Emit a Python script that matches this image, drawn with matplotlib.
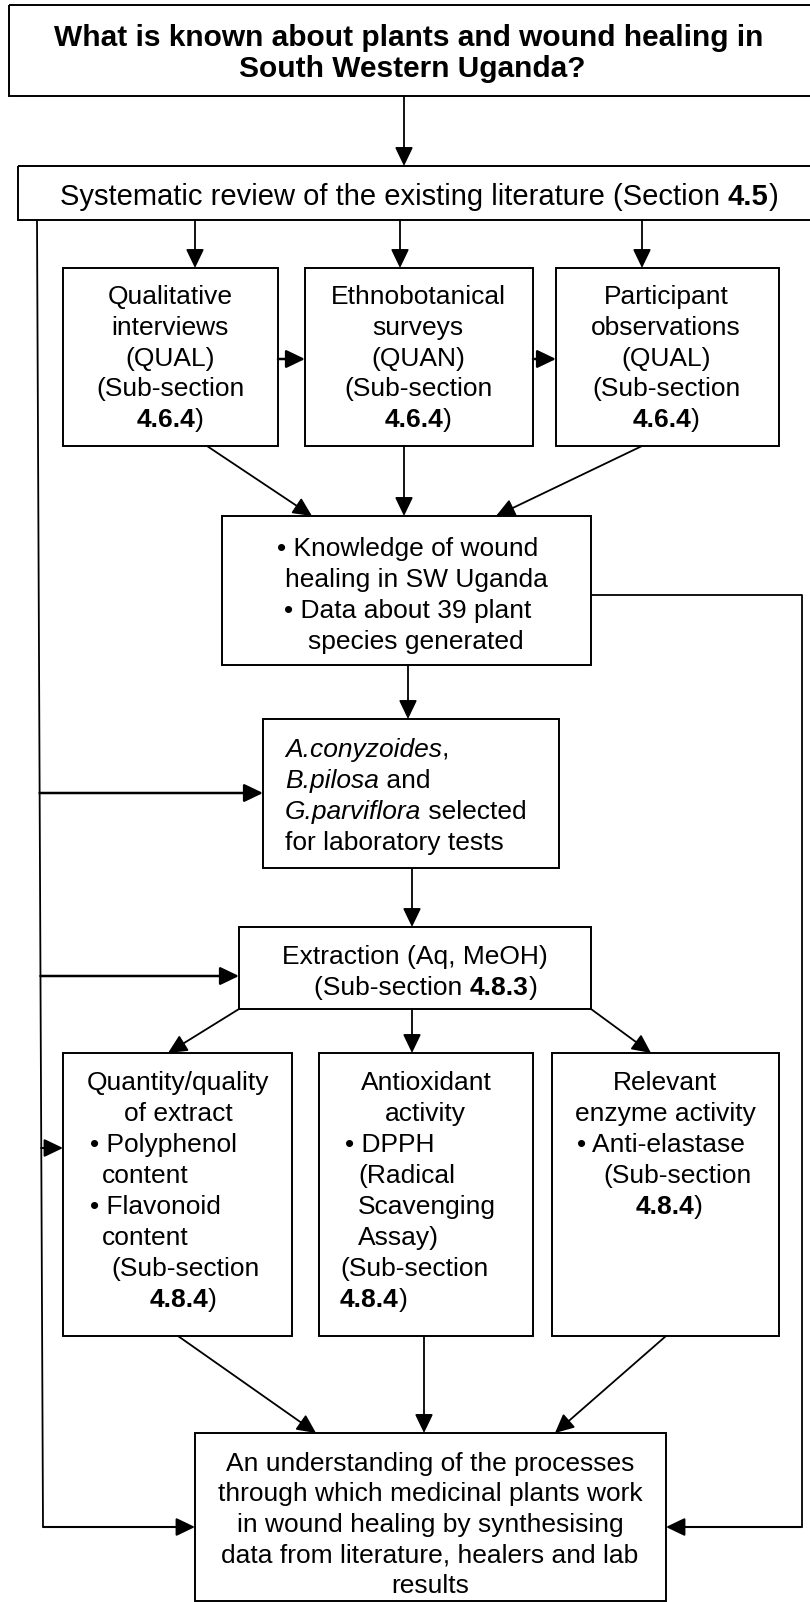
import matplotlib
matplotlib.use("Agg")
import matplotlib.pyplot as plt
from matplotlib.patches import Rectangle, FancyArrowPatch

plt.rcParams['font.family'] = ['Liberation Sans', 'DejaVu Sans']

# ---------------- content (text of each box) ----------------
title_lines = ["What is known about plants and wound healing in",
               "South Western Uganda?"]
review_runs = [("Systematic review of the existing literature (Section ", "n"),
               ("4.5", "b"), (")", "n")]
qual_lines = ["Qualitative", "interviews", "(QUAL)", "(Sub-section", [("4.6.4", "b"), (")", "n")]]
ethno_lines = ["Ethnobotanical", "surveys", "(QUAN)", "(Sub-section", [("4.6.4", "b"), (")", "n")]]
part_lines = ["Participant", "observations", "(QUAL)", "(Sub-section", [("4.6.4", "b"), (")", "n")]]
know_lines = ["\u2022 Knowledge of wound", "healing in SW Uganda",
              "\u2022 Data about 39 plant", "species generated"]
species_lines = [[("A.conyzoides", "i"), (",", "n")],
                 [("B.pilosa", "i"), (" and", "n")],
                 [("G.parviflora", "i"), (" selected", "n")],
                 "for laboratory tests"]
extract_lines = ["Extraction (Aq, MeOH)", [("(Sub-section ", "n"), ("4.8.3", "b"), (")", "n")]]
quant_lines = ["Quantity/quality", "of extract", "\u2022 Polyphenol", "content",
               "\u2022 Flavonoid", "content", "(Sub-section", [("4.8.4", "b"), (")", "n")]]
anti_lines = ["Antioxidant", "activity", "\u2022 DPPH", "(Radical", "Scavenging",
              "Assay)", "(Sub-section", [("4.8.4", "b"), (")", "n")]]
enz_lines = ["Relevant", "enzyme activity", "\u2022 Anti-elastase", "(Sub-section",
             [("4.8.4", "b"), (")", "n")]]
final_lines = ["An understanding of the processes", "through which medicinal plants work",
               "in wound healing by synthesising", "data from literature, healers and lab",
               "results"]

# ---------------- layout (pixel coordinates, y downward) ----------------
W, H = 810, 1602
fig = plt.figure(figsize=(W / 100, H / 100), dpi=100)
ax = fig.add_axes([0, 0, 1, 1])
ax.set_xlim(0, W)
ax.set_ylim(H, 0)
ax.axis('off')
renderer = fig.canvas.get_renderer()

LW = 1.4
BODY = 19
SHIFT = 9  # visual centre -> baseline


def box(x0, y0, x1, y1):
    ax.add_patch(Rectangle((x0, y0), x1 - x0, y1 - y0, fill=False,
                           edgecolor='black', lw=LW, zorder=2))


def arrow(p0, p1, lw=1.3):
    ax.add_patch(FancyArrowPatch(p0, p1, arrowstyle='-|>,head_length=1.0,head_width=0.48',
                                 mutation_scale=11.5, color='black', lw=lw,
                                 shrinkA=0, shrinkB=0, zorder=3))


def line(xs, ys, lw=1.3):
    ax.plot(xs, ys, color='black', lw=lw, solid_capstyle='butt', zorder=3)


def props(style, size):
    d = dict(fontsize=size)
    if style == 'b':
        d['fontweight'] = 'bold'
    if style == 'i':
        d['fontstyle'] = 'italic'
    return d


def width(s, style, size):
    t1 = ax.text(0, 0, "|" + s + "|", **props(style, size))
    t2 = ax.text(0, 0, "||", **props(style, size))
    w = t1.get_window_extent(renderer).width - t2.get_window_extent(renderer).width
    t1.remove()
    t2.remove()
    return w


def draw(x, yc, item, ha='center', size=BODY, default='n'):
    runs = [(item, default)] if isinstance(item, str) else item
    ws = [width(s, st, size) for s, st in runs]
    total = sum(ws)
    cx = x - total / 2 if ha == 'center' else x
    for (s, st), w in zip(runs, ws):
        ax.text(cx, yc + SHIFT, s, ha='left', va='baseline', zorder=4, **props(st, size))
        cx += w


# boxes
box(9, 5, 815, 96)
box(18, 166, 815, 220)
box(63, 268, 278, 446)
box(305, 268, 533, 446)
box(556, 268, 779, 446)
box(222, 516, 591, 665)
box(263, 719, 559, 868)
box(239, 927, 591, 1009)
box(63, 1053, 292, 1336)
box(319, 1053, 533, 1336)
box(552, 1053, 779, 1336)
box(195, 1433, 666, 1601)

# text
draw(409, 37, title_lines[0], size=21.5, default='b')
draw(412, 68, title_lines[1], size=21.5, default='b')
draw(419, 196, review_runs, size=21)

ys3 = [295, 326, 357, 387, 418]
for xc, lines in [(170, qual_lines), (418, ethno_lines), (666, part_lines)]:
    for y, it in zip(ys3, lines):
        draw(xc, y, it)

for (xc, y), it in zip([(408, 547), (416, 578), (408, 609), (416, 640)], know_lines):
    draw(xc, y, it)

for y, it in zip([748, 779, 810, 841], species_lines):
    draw(285, y, it, ha='left')

draw(415, 955, extract_lines[0])
draw(426, 986, extract_lines[1])

ysb = [1081, 1112, 1143, 1174, 1205, 1236, 1267, 1298]
quant_pos = [(178, 'center'), (178, 'center'), (90, 'left'), (102, 'left'),
             (90, 'left'), (102, 'left'), (111, 'left'), (183, 'center')]
anti_pos = [(426, 'center'), (425, 'center'), (345, 'left'), (358, 'left'),
            (358, 'left'), (358, 'left'), (340, 'left'), (340, 'left')]
enz_pos = [(665, 'center'), (665, 'center'), (577, 'left'), (603, 'left'), (669, 'center')]
for lines, pos in [(quant_lines, quant_pos), (anti_lines, anti_pos), (enz_lines, enz_pos)]:
    for y, it, (xx, ha) in zip(ysb, lines, pos):
        draw(xx, y, it, ha=ha)

for y, it in zip([1462, 1492, 1523, 1553, 1584], final_lines):
    draw(430, y, it)

# arrows
arrow((404, 96), (404, 166))
for x in (195, 400, 642):
    arrow((x, 220), (x, 268))
arrow((278, 359), (305, 359), lw=1.8)
arrow((533, 359), (556, 359), lw=1.8)
arrow((207, 446), (312, 516))
arrow((404, 446), (404, 516))
arrow((642, 446), (496, 516))
arrow((408, 665), (408, 719))
arrow((412, 868), (412, 927))
arrow((239, 1009), (168, 1053))
arrow((412, 1009), (412, 1053))
arrow((591, 1009), (651, 1053))
arrow((178, 1336), (316, 1433))
arrow((424, 1336), (424, 1433))
arrow((666, 1336), (555, 1433))


def left_x(y):
    return 37 + 6 * (y - 220) / 1307


line([left_x(220), left_x(1527)], [220, 1527])
arrow((left_x(793), 793), (263, 793), lw=1.8)
arrow((left_x(976), 976), (239, 976), lw=1.8)
arrow((left_x(1148), 1148), (63, 1148), lw=1.5)
arrow((left_x(1527), 1527), (195, 1527), lw=1.5)

line([591, 802, 802], [595, 595, 1527])
arrow((802, 1527), (666, 1527), lw=1.5)

fig.savefig("out.png", dpi=100, facecolor='white')
